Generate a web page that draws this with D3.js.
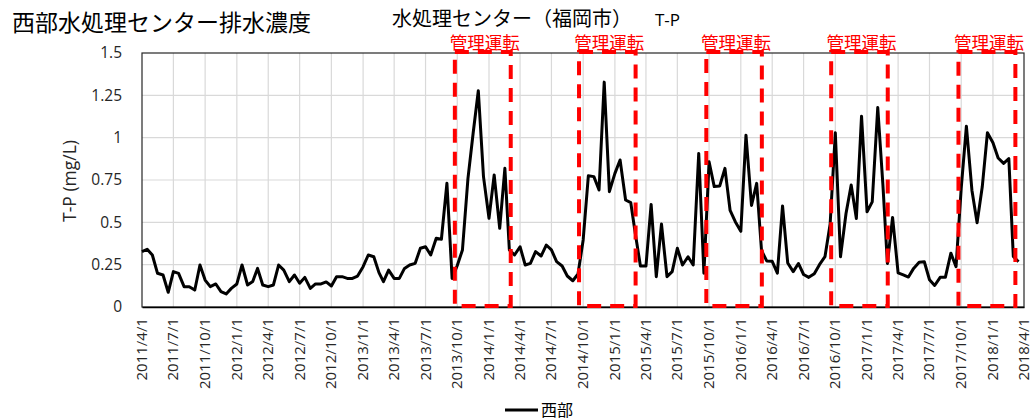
<!DOCTYPE html>
<html><head><meta charset="utf-8">
<script src="https://cdn.jsdelivr.net/npm/d3@7"></script>
<style>body{margin:0;background:#fff} svg{display:block}</style>
</head><body><svg id="c" width="1032" height="420"></svg>
<script>
// ---- data ----
const title = "西部水処理センター排水濃度";
const subtitle = "水処理センター（福岡市）";
const subtitle2 = "T-P";
const yAxisTitle = "T-P (mg/L)";
const seriesName = "西部";
const opLabel = "管理運転";
// semimonthly samples, Apr 2011 .. Mar 2018 (days 1 and 16 of each month)
const firstYear = 2011, firstMonth = 4, monthCount = 84, sampleDays = [1, 16];
const values = [
 0.327,0.341,0.307,0.199,0.189,0.087,0.209,0.199,0.120,0.120,
 0.100,0.248,0.159,0.120,0.136,0.091,0.077,0.110,0.136,0.248,
 0.130,0.150,0.228,0.130,0.120,0.130,0.248,0.218,0.150,0.189,
 0.140,0.175,0.110,0.136,0.136,0.148,0.124,0.179,0.179,0.169,
 0.169,0.183,0.238,0.307,0.297,0.203,0.150,0.218,0.169,0.169,
 0.228,0.248,0.258,0.347,0.356,0.307,0.406,0.400,0.731,0.169,
 0.245,0.337,0.760,1.026,1.277,0.770,0.524,0.780,0.465,0.819,
 0.337,0.307,0.356,0.248,0.258,0.327,0.301,0.366,0.337,0.268,
 0.242,0.183,0.155,0.195,0.396,0.775,0.770,0.691,1.328,0.681,
 0.789,0.868,0.632,0.616,0.435,0.242,0.242,0.606,0.179,0.490,
 0.179,0.209,0.347,0.248,0.297,0.248,0.907,0.199,0.858,0.711,
 0.715,0.819,0.570,0.504,0.447,1.015,0.600,0.730,0.334,0.272,
 0.270,0.200,0.597,0.260,0.209,0.257,0.192,0.175,0.197,0.250,
 0.297,0.490,1.029,0.297,0.552,0.720,0.523,1.127,0.562,0.621,
 1.178,0.720,0.257,0.529,0.202,0.190,0.177,0.228,0.264,0.267,
 0.161,0.127,0.175,0.175,0.318,0.238,0.700,1.068,0.690,0.497,
 0.710,1.029,0.970,0.880,0.848,0.877,0.299,0.267
];
const yTickValues = [0, 0.25, 0.5, 0.75, 1, 1.25, 1.5];
const xDomain = ["2011-04-01", "2018-04-01"];
const opStart = ["2013-09-24", "2014-09-19", "2015-09-23", "2016-09-19", "2017-09-23"];
const opEnd   = ["2014-03-05", "2015-03-02", "2016-03-02", "2017-03-02", "2018-03-07"];

// ---- build ----
const dates = [];
for (let m = 0; m < monthCount; m++) for (const d of sampleDays) dates.push(new Date(firstYear, firstMonth - 1 + m, d));
const data = values.map((v, i) => ({date: dates[i], v}));
const parse = d3.timeParse("%Y-%m-%d");

const m = {left: 142, right: 1024, top: 53, bottom: 307};
const svg = d3.select("#c");
const x = d3.scaleTime().domain(xDomain.map(parse)).range([m.left, m.right]);
const y = d3.scaleLinear().domain([0, 1.5]).range([m.bottom, m.top]);
const FONT = "'Open Sans', 'Noto Sans', sans-serif";
const CJK = "'Noto Sans CJK JP', sans-serif";

const xTicks = d3.timeMonth.range(parse(xDomain[0]), d3.timeDay.offset(parse(xDomain[1]), 1), 3);

// grid
svg.append("g").selectAll("line").data(yTickValues.slice(1, -1)).join("line")
  .attr("x1", m.left).attr("x2", m.right).attr("y1", d => y(d)).attr("y2", d => y(d))
  .attr("stroke", "#d9d9d9").attr("stroke-width", 1.2);
svg.append("g").selectAll("line").data(xTicks.slice(1, -1)).join("line")
  .attr("x1", d => x(d)).attr("x2", d => x(d)).attr("y1", m.top).attr("y2", m.bottom)
  .attr("stroke", "#d9d9d9").attr("stroke-width", 1.2);

// border
svg.append("rect").attr("x", m.left).attr("y", m.top).attr("width", m.right - m.left).attr("height", m.bottom - m.top)
  .attr("fill", "none").attr("stroke", "#262626").attr("stroke-width", 1.2);

// axes
const yAxis = d3.axisLeft(y).tickValues(yTickValues).tickSize(0).tickPadding(20).tickFormat(d => String(d));
const gy = svg.append("g").attr("transform", `translate(${m.left},0)`).call(yAxis);
gy.select(".domain").remove();
gy.selectAll("text").attr("font-family", FONT).attr("font-size", 15.5).attr("fill", "#262626");

const xAxis = d3.axisBottom(x).tickValues(xTicks).tickSize(0).tickFormat(d3.timeFormat("%Y/%-m/%-d"));
const gx = svg.append("g").attr("transform", `translate(0,${m.bottom})`).call(xAxis);
gx.select(".domain").attr("stroke", "#000").attr("stroke-width", 1.5);
gx.selectAll("text").attr("font-family", FONT).attr("font-size", 15).attr("fill", "#262626")
  .attr("transform", "rotate(-90)").attr("x", -11).attr("y", 0).attr("dy", "0.3em").style("text-anchor", "end");

// y axis title
svg.append("text").attr("transform", `translate(76,181) rotate(-90)`).attr("text-anchor", "middle")
  .attr("font-family", FONT).attr("font-size", 17.5).attr("fill", "#262626").text(yAxisTitle);

// series line
svg.append("path").datum(data)
  .attr("d", d3.line().x(d => x(d.date)).y(d => y(d.v)))
  .attr("fill", "none").attr("stroke", "#000").attr("stroke-width", 3).attr("stroke-linejoin", "round");

// operation boxes
const ops = opStart.map((s, i) => ({s: parse(s), e: parse(opEnd[i])}));
svg.append("g").selectAll("rect").data(ops).join("rect")
  .attr("x", d => x(d.s)).attr("width", d => x(d.e) - x(d.s))
  .attr("y", y(1.5) - 1).attr("height", y(0) - y(1.5))
  .attr("fill", "none").attr("stroke", "#ff0000").attr("stroke-width", 4).attr("stroke-dasharray", "14,9");
svg.append("g").selectAll("text").data(ops).join("text")
  .attr("x", d => (x(d.s) + x(d.e)) / 2 + 2).attr("y", 48.5).attr("text-anchor", "middle")
  .attr("font-family", CJK).attr("font-size", 17.5).attr("fill", "#ff0000").text(opLabel);

// titles
svg.append("text").attr("x", 12).attr("y", 31).attr("font-family", CJK).attr("font-size", 23).attr("fill", "#000").text(title);
svg.append("text").attr("x", 392).attr("y", 26).attr("font-family", CJK).attr("font-size", 20).attr("fill", "#000").text(subtitle);
svg.append("text").attr("x", 655).attr("y", 26).attr("font-family", FONT).attr("font-size", 17).attr("fill", "#000").text(subtitle2);

// legend
svg.append("line").attr("x1", 505).attr("x2", 538).attr("y1", 410).attr("y2", 410).attr("stroke", "#000").attr("stroke-width", 3);
svg.append("text").attr("x", 541).attr("y", 416).attr("font-family", CJK).attr("font-size", 16).attr("fill", "#000").text(seriesName);
</script></body></html>
